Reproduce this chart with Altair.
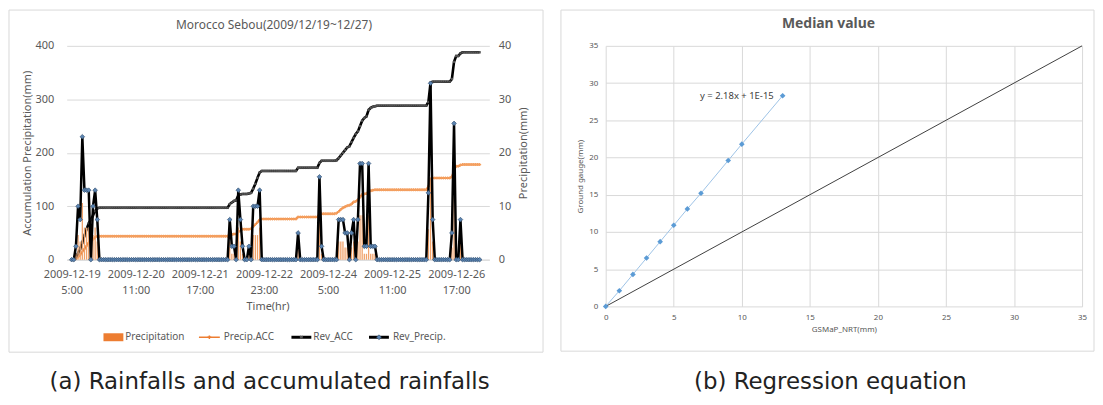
import json
import altair as alt
import pandas as pd

GRAY = "#595959"
GRID = "#D9D9D9"
FONT = "Noto Sans"
CAP_FONT = "DejaVu Sans"
ORANGE = "#ED7D31"

# ---------------- (a) hourly series, 2009-12-19 5:00 onwards ----------------
REV_PRECIP = ([0, 0, 2.5, 10, 7.5, 23, 13, 13, 13, 0, 10, 13, 7.5, 0]
              + [0] * 60
              + [7.5, 2.5, 2.5, 0, 13, 7.5, 2.5, 0, 0, 2.5, 0, 10, 10, 10, 13, 0]
              + [0] * 16
              + [5, 0, 0, 0, 0, 0, 0, 0, 0, 0]
              + [15.5, 2.5, 0, 0, 0, 0, 0, 0]
              + [0, 7.5, 7.5, 7.5, 5, 5, 0, 5, 7.5, 0, 7.5, 18, 18, 2.5, 2.5, 18, 2.5, 2.5, 2.5]
              + [0] * 24
              + [12.5, 33, 7.5, 0, 0, 0, 0, 0, 0, 0, 0]
              + [5, 25.5, 0, 0, 7.5, 0, 0, 0, 0, 0, 0, 0, 0, 0])

PRECIP = ([0, 0, 1.1, 4.6, 3.4, 10.6, 6.0, 6.0, 6.0, 0, 4.6, 6.0, 3.4, 0]
          + [0] * 60
          + [3.4, 1.1, 1.1, 0, 6.0, 3.4, 1.1, 0, 0, 1.1, 0, 4.6, 4.6, 4.6, 6.0, 0]
          + [0] * 16
          + [2.3, 0, 0, 0, 0, 0, 0, 0, 0, 0]
          + [7.1, 1.1, 0, 0, 0, 0, 0, 0]
          + [0, 3.4, 3.4, 3.4, 2.3, 2.3, 0, 2.3, 3.4, 0, 3.4, 8.3, 8.3, 1.1, 1.1, 8.3, 1.1, 1.1, 1.1]
          + [0] * 24
          + [5.7, 15.1, 3.4, 0, 0, 0, 0, 0, 0, 0, 0]
          + [2.3, 11.7, 0, 0, 3.4, 0, 0, 0, 0, 0, 0, 0, 0, 0])

REV_ACC = ([0, 0, 5, 12, 20, 32, 45, 57, 68, 75, 83, 91, 96, 97]
           + [97] * 60
           + [104, 107, 110, 111, 120, 122, 123, 123, 123, 124, 125, 133, 142, 153, 163, 166]
           + [166] * 16
           + [172] * 10
           + [181, 185, 185, 185, 185, 185, 185, 185]
           + [186, 190, 195, 200, 205, 210, 212, 220, 228, 235, 240, 250, 260, 265, 268, 280, 284, 286, 287]
           + [288] * 24
           + [295, 331] + [333] * 9
           + [338, 370, 381, 381, 386] + [388] * 9)

PRECIP_ACC = ([0, 0, 2, 5, 9, 15, 20, 26, 32, 35, 38, 42, 44, 44]
              + [44] * 60
              + [47, 47, 48, 48, 52, 54, 57, 57, 57, 57, 58, 62, 66, 70, 75, 76]
              + [76] * 16
              + [80] * 10
              + [85] + [86] * 7
              + [87, 90, 94, 97, 99, 101, 102, 104, 108, 109, 112, 117, 122, 123, 124, 128, 129, 130, 131]
              + [131] * 24
              + [137, 151] + [153] * 9
              + [155, 167, 175, 175, 177] + [178] * 9)

TICK_HOURS = [0, 30, 60, 90, 120, 150, 180]
TICK_LABELS = ["2009-12-19|5:00", "2009-12-20|11:00", "2009-12-21|17:00",
               "2009-12-22|23:00", "2009-12-24|5:00", "2009-12-25|11:00",
               "2009-12-26|17:00"]

# ---------------- (b) regression ----------------
GSMAP = [0, 1, 2, 3, 4, 5, 6, 7, 9, 10, 13]
GAUGE = [0, 2.1, 4.3, 6.5, 8.7, 10.9, 13.1, 15.2, 19.6, 21.8, 28.3]
DIAG_X = [0, 35]
DIAG_Y = [0, 35]

n = len(REV_PRECIP)
df = pd.DataFrame({"hour": list(range(n)), "rev_precip": REV_PRECIP, "precip": PRECIP,
                   "rev_acc": REV_ACC, "precip_acc": PRECIP_ACC})
one = pd.DataFrame({"k": [0]})

label_expr = "split(" + json.dumps(TICK_LABELS) + "[round(datum.value / 30)], '|')"

x_axis = alt.Axis(values=TICK_HOURS, labelExpr=label_expr, grid=False, ticks=False,
                  domain=True, domainColor=GRID, labelColor=GRAY, labelFont=FONT,
                  labelFontSize=11, labelPadding=9, labelLineHeight=16, labelBaseline="top",
                  labelAlign="center", labelOverlap=False, labelFlush=False,
                  title="Time(hr)", titleX=202, titleY=47, titleFont=FONT, titleFontSize=11,
                  titleFontWeight="normal", titleColor=GRAY, titleBaseline="middle",
                  titleAlign="center")
xa = alt.X("hour:Q", scale=alt.Scale(domain=[0, 193.2], nice=False, zero=False), axis=x_axis)

left_axis = alt.Axis(orient="left", values=[0, 100, 200, 300, 400], grid=True, gridColor=GRID,
                     domain=False, ticks=False, labelColor=GRAY, labelFont=FONT, labelFontSize=11,
                     labelPadding=13, title="Accumulation Precipitation(mm)", titleX=-39,
                     titleY=107.5, titleAngle=270, titleAlign="center", titleBaseline="middle",
                     titleFont=FONT, titleFontSize=11, titleFontWeight="normal", titleColor=GRAY)
right_axis = alt.Axis(orient="right", values=[0, 10, 20, 30, 40], grid=False, domain=False,
                      ticks=False, labelColor=GRAY, labelFont=FONT, labelFontSize=11,
                      labelPadding=9, title="Precipitation(mm)", titleX=34, titleY=107.5,
                      titleAngle=270, titleAlign="center", titleBaseline="middle",
                      titleFont=FONT, titleFontSize=11, titleFontWeight="normal", titleColor=GRAY)
yl_scale = alt.Scale(domain=[0, 400], nice=False)
yr_scale = alt.Scale(domain=[0, 40], nice=False)

base = alt.Chart(df)
pacc_line = base.mark_line(color=ORANGE, strokeWidth=2).encode(
    x=xa, y=alt.Y("precip_acc:Q", scale=yl_scale, axis=left_axis))
pacc_pts = base.mark_point(shape="cross", size=9, filled=True, color="#F4A060", opacity=1).encode(
    x=xa, y=alt.Y("precip_acc:Q", scale=yl_scale, axis=left_axis))
racc_line = base.mark_line(color="black", strokeWidth=2.6).encode(
    x=xa, y=alt.Y("rev_acc:Q", scale=yl_scale, axis=left_axis))
racc_pts = base.mark_point(shape="cross", angle=45, size=8, filled=True, color="#555555", opacity=1).encode(
    x=xa, y=alt.Y("rev_acc:Q", scale=yl_scale, axis=left_axis))
left_grp = alt.layer(pacc_line, pacc_pts, racc_line, racc_pts)

bars = base.mark_bar(size=1.3, color="#F0A26A").encode(
    x=xa, y=alt.Y("precip:Q", scale=yr_scale, axis=right_axis))
rp_line = base.mark_line(color="black", strokeWidth=2.5).encode(
    x=xa, y=alt.Y("rev_precip:Q", scale=yr_scale, axis=right_axis))
rp_pts = base.mark_point(shape="diamond", filled=True, size=22, fill="#5B84B1", stroke="#2E4A6B",
                         strokeWidth=0.6, opacity=1).encode(
    x=xa, y=alt.Y("rev_precip:Q", scale=yr_scale, axis=right_axis))
right_grp = alt.layer(bars, rp_line, rp_pts)

deco = alt.Chart(one)
border_a = deco.mark_rect(fill="transparent", stroke=GRID, strokeWidth=1).encode(
    x=alt.value(-58), x2=alt.value(479), y=alt.value(-36), y2=alt.value(308))
title_a = deco.mark_text(text="Morocco Sebou(2009/12/19~12/27)", font=FONT, fontSize=12,
                         color=GRAY).encode(x=alt.value(208.5), y=alt.value(-21))
caption_a = deco.mark_text(text="(a) Rainfalls and accumulated rainfalls", font=CAP_FONT,
                           fontSize=23, color="#222222").encode(x=alt.value(204), y=alt.value(338))

LY = 293
leg = [
    deco.mark_rect(color=ORANGE).encode(x=alt.value(37), x2=alt.value(57), y=alt.value(LY - 4), y2=alt.value(LY + 4)),
    deco.mark_text(text="Precipitation", align="left", baseline="middle", font=FONT, fontSize=10, color=GRAY).encode(x=alt.value(59), y=alt.value(LY)),
    deco.mark_rule(color=ORANGE, strokeWidth=1.5).encode(x=alt.value(133), x2=alt.value(154), y=alt.value(LY)),
    deco.mark_point(shape="cross", size=14, filled=True, color=ORANGE, opacity=1).encode(x=alt.value(143.5), y=alt.value(LY)),
    deco.mark_text(text="Precip.ACC", align="left", baseline="middle", font=FONT, fontSize=10, color=GRAY).encode(x=alt.value(158), y=alt.value(LY)),
    deco.mark_rule(color="black", strokeWidth=3).encode(x=alt.value(226), x2=alt.value(246), y=alt.value(LY)),
    deco.mark_point(shape="cross", angle=45, size=14, filled=True, color="#555555", opacity=1).encode(x=alt.value(236), y=alt.value(LY)),
    deco.mark_text(text="Rev_ACC", align="left", baseline="middle", font=FONT, fontSize=10, color=GRAY).encode(x=alt.value(248), y=alt.value(LY)),
    deco.mark_rule(color="black", strokeWidth=3).encode(x=alt.value(304), x2=alt.value(324), y=alt.value(LY)),
    deco.mark_point(shape="diamond", size=24, filled=True, fill="#5B84B1", stroke="#2E4A6B", strokeWidth=0.6, opacity=1).encode(x=alt.value(314), y=alt.value(LY)),
    deco.mark_text(text="Rev_Precip.", align="left", baseline="middle", font=FONT, fontSize=10, color=GRAY).encode(x=alt.value(328), y=alt.value(LY)),
]

panel_a = alt.layer(border_a, left_grp, right_grp, title_a, caption_a, *leg).resolve_scale(
    y="independent").properties(width=425, height=215)

# ---------------- panel (b) ----------------
dfb = pd.DataFrame({"gsmap": GSMAP, "gauge": GAUGE})
dfd = pd.DataFrame({"gsmap": DIAG_X, "gauge": DIAG_Y})

xb_axis = alt.Axis(values=list(range(0, 36, 5)), grid=True, gridColor=GRID, domain=False, ticks=False,
                   labelColor=GRAY, labelFont=FONT, labelFontSize=8, labelPadding=7,
                   labelFlush=False, title="GSMaP_NRT(mm)", titleX=239.5, titleY=23,
                   titleFont=FONT, titleFontSize=8, titleFontWeight="normal", titleColor=GRAY,
                   titleBaseline="middle", titleAlign="center")
yb_axis = alt.Axis(values=list(range(0, 36, 5)), grid=True, gridColor=GRID, domain=False, ticks=False,
                   labelColor=GRAY, labelFont=FONT, labelFontSize=8, labelPadding=8,
                   labelFlush=False, title="Ground gauge(mm)", titleX=-25, titleY=131,
                   titleAngle=270, titleFont=FONT, titleFontSize=8, titleFontWeight="normal",
                   titleColor=GRAY, titleBaseline="middle", titleAlign="center")
xb = alt.X("gsmap:Q", scale=alt.Scale(domain=[0, 35], nice=False), axis=xb_axis)
yb = alt.Y("gauge:Q", scale=alt.Scale(domain=[0, 35], nice=False), axis=yb_axis)

diag = alt.Chart(dfd).mark_line(color="#404040", strokeWidth=1).encode(x=xb, y=yb)
reg_line = alt.Chart(dfb).mark_line(color="#9DC3E6", strokeWidth=1).encode(x=xb, y=yb)
reg_pts = alt.Chart(dfb).mark_point(shape="diamond", filled=True, size=32, color="#5B9BD5",
                                    opacity=1).encode(x=xb, y=yb)
eq_text = alt.Chart(dfb.tail(1)).mark_text(text="y = 2.18x + 1E-15", align="right", baseline="middle",
                                           dx=-9, font=FONT, fontSize=9.5, color="#404040").encode(x=xb, y=yb)

border_b = deco.mark_rect(fill="transparent", stroke=GRID, strokeWidth=1).encode(
    x=alt.value(-45), x2=alt.value(491), y=alt.value(-36), y2=alt.value(307))
title_b = deco.mark_text(text="Median value", font=FONT, fontSize=14, fontWeight="bold",
                         color=GRAY).encode(x=alt.value(224), y=alt.value(-22))
caption_b = deco.mark_text(text="(b) Regression equation", font=CAP_FONT, fontSize=23,
                           color="#222222").encode(x=alt.value(226), y=alt.value(338))

panel_b = alt.layer(border_b, diag, reg_line, reg_pts, eq_text, title_b, caption_b).properties(
    width=479, height=262)

chart = (alt.hconcat(panel_a, panel_b, spacing=117, bounds="flush")
         .resolve_scale(x="independent", y="independent")
         .configure_view(stroke=None)
         .properties(padding=0))

chart.save("out.html", embed_options={"renderer": "svg", "actions": False})
